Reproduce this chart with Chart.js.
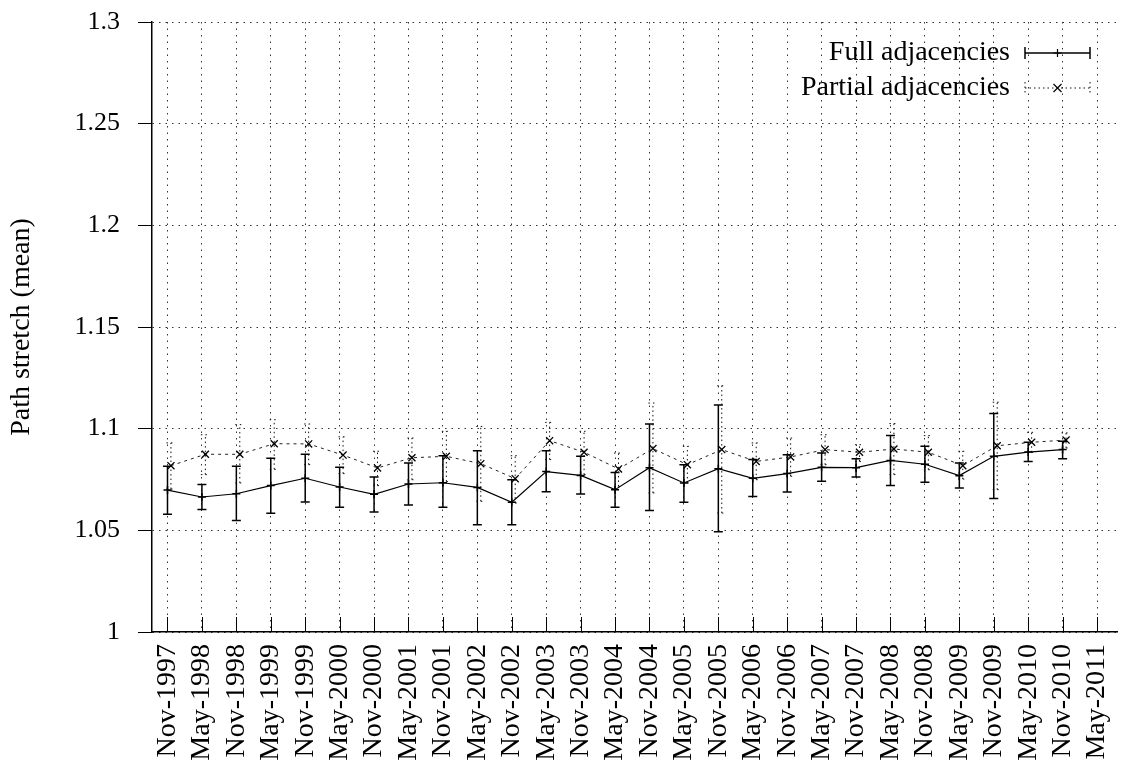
<!DOCTYPE html>
<html>
<head>
<meta charset="utf-8">
<script src="https://cdn.jsdelivr.net/npm/chart.js@4/dist/chart.umd.min.js"></script>
<style>
  html, body { margin: 0; padding: 0; background: #fff; }
  #wrap { width: 1124px; height: 767px; position: relative; }
</style>
</head>
<body>
<div id="wrap"><canvas id="c" width="1124" height="767"></canvas></div>
<script>
const categories = ["Nov-1997","May-1998","Nov-1998","May-1999","Nov-1999","May-2000","Nov-2000","May-2001","Nov-2001","May-2002","Nov-2002","May-2003","Nov-2003","May-2004","Nov-2004","May-2005","Nov-2005","May-2006","Nov-2006","May-2007","Nov-2007","May-2008","Nov-2008","May-2009","Nov-2009","May-2010","Nov-2010","May-2011"];

const fullMean = [1.0698,1.0664,1.0680,1.0720,1.0756,1.0713,1.0677,1.0728,1.0734,1.0711,1.0638,1.0789,1.0770,1.0700,1.0808,1.0733,1.0803,1.0756,1.0779,1.0810,1.0808,1.0844,1.0825,1.0769,1.0864,1.0885,1.0897];
const fullLow  = [1.0579,1.0602,1.0548,1.0584,1.0639,1.0613,1.0590,1.0625,1.0613,1.0528,1.0528,1.0690,1.0679,1.0613,1.0597,1.0638,1.0493,1.0667,1.0689,1.0741,1.0762,1.0720,1.0736,1.0708,1.0656,1.0839,1.0852];
const fullHigh = [1.0815,1.0726,1.0815,1.0854,1.0874,1.0810,1.0762,1.0831,1.0867,1.0892,1.0749,1.0892,1.0864,1.0785,1.1023,1.0823,1.1116,1.0848,1.0872,1.0880,1.0852,1.0966,1.0913,1.0831,1.1074,1.0933,1.0938];

const partialMean = [1.0818,1.0874,1.0874,1.0926,1.0925,1.0870,1.0807,1.0857,1.0864,1.0828,1.0754,1.0941,1.0884,1.0802,1.0902,1.0823,1.0897,1.0839,1.0861,1.0897,1.0884,1.0900,1.0884,1.0818,1.0916,1.0933,1.0944];
const partialLow  = [1.0703,1.0774,1.0733,1.0800,1.0823,1.0779,1.0720,1.0749,1.0740,1.0643,1.0634,1.0848,1.0774,1.0716,1.0684,1.0733,1.0585,1.0749,1.0766,1.0823,1.0839,1.0774,1.0798,1.0752,1.0700,1.0884,1.0905];
const partialHigh = [1.0930,1.0970,1.1020,1.1044,1.1023,1.0960,1.0889,1.0954,1.0987,1.1011,1.0867,1.1031,1.0987,1.0880,1.1126,1.0913,1.1211,1.0930,1.0954,1.0970,1.0921,1.1025,1.0966,1.0889,1.1130,1.0982,1.0979];

const seriesNames = ["Full adjacencies", "Partial adjacencies"];
const yTitle = "Path stretch (mean)";

const FONT = "'Liberation Serif', 'Times New Roman', serif";
const FSIZE = 28;
const YTICK_SIZE = 26;
const PARTIAL_SHIFT = 0.1;

const fullData = fullMean.map((v, i) => ({x: i, y: v}));
const partialData = partialMean.map((v, i) => ({x: i + PARTIAL_SHIFT, y: v}));

const errorBarPlugin = {
  id: 'errorBars',
  beforeDatasetsDraw(chart) {
    const ctx = chart.ctx;
    const ys = chart.scales.y;
    chart.data.datasets.forEach((ds, di) => {
      const meta = chart.getDatasetMeta(di);
      ctx.save();
      ctx.strokeStyle = ds.errColor;
      ctx.lineWidth = ds.errWidth;
      ctx.setLineDash(ds.errDash);
      meta.data.forEach((el, i) => {
        const x = el.x;
        const yl = ys.getPixelForValue(ds.errLow[i]);
        const yh = ys.getPixelForValue(ds.errHigh[i]);
        const c = 4.5;
        ctx.beginPath();
        ctx.moveTo(x, yl); ctx.lineTo(x, yh);
        ctx.moveTo(x - c, yl); ctx.lineTo(x + c, yl);
        ctx.moveTo(x - c, yh); ctx.lineTo(x + c, yh);
        ctx.stroke();
      });
      ctx.restore();
    });
  },
  afterDraw(chart) {
    const ctx = chart.ctx;
    const xs = chart.scales.x;
    const area = chart.chartArea;
    // inward x tick marks
    ctx.save();
    ctx.strokeStyle = '#000';
    ctx.lineWidth = 1;
    xs.ticks.forEach(t => {
      const px = Math.round(xs.getPixelForValue(t.value)) + 0.5;
      ctx.beginPath();
      ctx.moveTo(px, area.bottom);
      ctx.lineTo(px, area.bottom - 15);
      ctx.stroke();
    });
    ctx.restore();

    // legend
    ctx.save();
    ctx.font = FSIZE + 'px ' + FONT;
    ctx.fillStyle = '#000';
    ctx.textAlign = 'right';
    ctx.textBaseline = 'middle';
    const rows = [53, 88];
    chart.data.datasets.forEach((ds, di) => {
      const yy = rows[di];
      ctx.fillText(ds.label, 1010, yy);
      const x1 = 1025, x2 = 1090, xm = (x1 + x2) / 2;
      ctx.save();
      ctx.strokeStyle = ds.errColor;
      ctx.lineWidth = di === 0 ? 1.5 : 1;
      ctx.setLineDash(ds.errDash);
      ctx.beginPath();
      ctx.moveTo(x1, yy); ctx.lineTo(x2, yy);
      ctx.moveTo(x1, yy - 6); ctx.lineTo(x1, yy + 6);
      ctx.moveTo(x2, yy - 6); ctx.lineTo(x2, yy + 6);
      ctx.stroke();
      ctx.setLineDash([]);
      ctx.strokeStyle = '#000';
      ctx.lineWidth = 1.2;
      ctx.beginPath();
      if (di === 0) {
        ctx.moveTo(xm - 4, yy); ctx.lineTo(xm + 4, yy);
        ctx.moveTo(xm, yy - 4); ctx.lineTo(xm, yy + 4);
      } else {
        ctx.moveTo(xm - 4, yy - 4); ctx.lineTo(xm + 4, yy + 4);
        ctx.moveTo(xm - 4, yy + 4); ctx.lineTo(xm + 4, yy - 4);
      }
      ctx.stroke();
      ctx.restore();
    });
    ctx.restore();
  }
};

new Chart(document.getElementById('c'), {
  type: 'line',
  data: {
    datasets: [
      {
        label: seriesNames[0],
        data: fullData,
        borderColor: '#000',
        borderWidth: 1.2,
        pointStyle: 'cross',
        pointRadius: 4,
        pointBorderWidth: 1.5,
        pointBorderColor: '#000',
        pointBackgroundColor: '#000',
        tension: 0,
        fill: false,
        errLow: fullLow,
        errHigh: fullHigh,
        errColor: '#000',
        errWidth: 1.5,
        errDash: []
      },
      {
        label: seriesNames[1],
        data: partialData,
        borderColor: '#222',
        borderWidth: 1,
        borderDash: [3, 4],
        pointStyle: 'crossRot',
        pointRadius: 5,
        pointBorderWidth: 1.3,
        pointBorderColor: '#000',
        pointBackgroundColor: '#000',
        tension: 0,
        fill: false,
        errLow: partialLow,
        errHigh: partialHigh,
        errColor: '#111',
        errWidth: 1,
        errDash: [1.5, 3]
      }
    ]
  },
  options: {
    responsive: false,
    animation: false,
    devicePixelRatio: 1,
    layout: { padding: { top: 22, right: 4, left: 0, bottom: 0 } },
    plugins: {
      legend: { display: false },
      tooltip: { enabled: false }
    },
    scales: {
      x: {
        type: 'linear',
        min: -0.45,
        max: 27.6,
        afterBuildTicks(scale) {
          scale.ticks = categories.map((_, i) => ({ value: i }));
        },
        afterFit(scale) {
          scale.height = 135;
          scale.paddingLeft = 0;
          scale.paddingRight = 0;
        },
        ticks: {
          autoSkip: false,
          minRotation: 90,
          maxRotation: 90,
          padding: 12,
          color: '#000',
          font: { family: FONT, size: FSIZE },
          callback: (v) => categories[v] ?? ''
        },
        grid: {
          color: '#333',
          lineWidth: 1,
          drawTicks: false
        },
        border: { display: true, color: '#000', width: 1.5, dash: [1.5, 5] }
      },
      y: {
        min: 1,
        max: 1.3,
        afterFit(scale) {
          scale.width = 152;
          scale.paddingTop = 0;
          scale.paddingBottom = 0;
        },
        ticks: {
          stepSize: 0.05,
          padding: 18,
          color: '#000',
          font: { family: FONT, size: YTICK_SIZE },
          callback: (v) => String(Math.round(v * 100) / 100)
        },
        grid: {
          color: '#333',
          lineWidth: 1,
          tickLength: 14,
          tickColor: '#000',
          tickWidth: 1
        },
        border: { display: true, color: '#000', width: 1.5, dash: [1.5, 5] },
        title: {
          display: true,
          text: yTitle,
          color: '#000',
          font: { family: FONT, size: FSIZE, lineHeight: 1 },
          padding: { top: 8, bottom: 0 }
        }
      }
    }
  },
  plugins: [errorBarPlugin]
});
</script>
</body>
</html>
